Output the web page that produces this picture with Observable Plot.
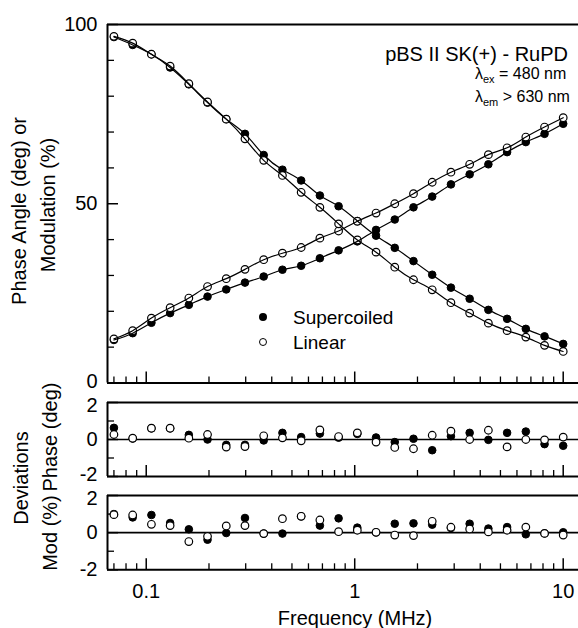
<!DOCTYPE html>
<html>
<head>
<meta charset="utf-8">
<script src="https://cdn.jsdelivr.net/npm/d3@7"></script>
<script src="https://cdn.jsdelivr.net/npm/@observablehq/plot@0.6"></script>
<style>
  html, body { margin: 0; padding: 0; background: white; }
  #chart { position: relative; width: 578px; height: 628px; overflow: hidden;
           font-family: "Liberation Sans", Arial, sans-serif; color: black; }
  #chart svg { position: absolute; left: 0; background: transparent !important; overflow: visible; }
  .lbl { position: absolute; white-space: nowrap; line-height: 1; }
  .rot { transform: translate(-50%, -50%) rotate(-90deg); font-size: 20px; }
  .ctr { transform: translate(-50%, -50%); }
  sub { font-size: 11px; vertical-align: -4px; line-height: 0; }
  .sym { position: absolute; width: 8px; height: 8px; border-radius: 50%; box-sizing: border-box; }
</style>
</head>
<body>
<div id="chart"></div>
<script>
// ---------- data ----------
const freq = [0.0700, 0.0861, 0.1059, 0.1302, 0.1601, 0.1968, 0.2420, 0.2976, 0.3660, 0.4501,
              0.5535, 0.6806, 0.8369, 1.0292, 1.2656, 1.5563, 1.9138, 2.3534, 2.8940, 3.5588,
              4.3763, 5.3816, 6.6177, 8.1379, 10.0];

const phaseSupercoiled = [12.0, 13.9, 16.8, 19.5, 21.8, 24.1, 26.1, 28.0, 29.7, 31.6, 32.7, 34.8, 37.0,
                          39.5, 42.7, 45.6, 49.0, 52.0, 55.4, 58.2, 61.0, 64.4, 67.2, 69.5, 72.3];
const phaseLinear      = [12.3, 14.6, 18.1, 21.0, 23.7, 26.9, 29.1, 31.7, 34.4, 36.2, 37.8, 40.4, 42.4,
                          45.1, 47.4, 50.0, 52.8, 56.0, 58.8, 61.0, 63.7, 65.6, 68.6, 71.4, 74.0];
const modSupercoiled   = [96.5, 94.3, 91.7, 88.0, 83.3, 78.2, 73.6, 69.5, 63.6, 59.5, 56.5, 52.3, 49.3,
                          45.2, 41.1, 37.7, 34.0, 30.2, 26.6, 23.5, 20.4, 17.9, 15.1, 13.0, 10.9];
const modLinear        = [96.7, 94.8, 91.7, 88.4, 83.5, 78.4, 73.6, 68.1, 62.1, 57.9, 53.2, 49.0, 44.4,
                          39.9, 36.5, 32.3, 28.8, 26.0, 22.4, 19.5, 16.7, 14.6, 12.8, 10.5, 8.8];

const devPhaseSupercoiled = [0.63, 0.05, 0.6, 0.6, 0.25, 0.0, -0.29, -0.29, -0.05, 0.36, 0.13, 0.32, 0.1,
                             0.3, 0.11, -0.14, 0.04, -0.58, 0.18, 0.36, -0.02, 0.36, 0.43, -0.25, -0.34];
const devPhaseLinear      = [0.27, 0.07, 0.61, 0.61, 0.07, 0.27, -0.41, -0.38, 0.2, 0.09, -0.07, 0.52, 0.16,
                             0.36, -0.14, -0.43, -0.5, 0.23, 0.45, 0.0, 0.5, -0.4, 0.0, -0.02, 0.13];
const devModSupercoiled   = [1.0, 0.82, 0.95, 0.52, 0.18, -0.38, -0.02, 0.79, -0.05, -0.05, 0.88, 0.38, 0.77,
                             0.27, 0.02, 0.48, 0.5, 0.43, 0.25, 0.48, 0.22, 0.3, -0.09, -0.04, 0.02];
const devModLinear        = [0.97, 0.95, 0.45, 0.38, -0.48, -0.2, 0.36, 0.38, -0.05, 0.75, 0.88, 0.68, 0.05,
                             0.13, 0.02, -0.13, -0.16, 0.61, 0.29, 0.2, 0.04, 0.13, 0.3, -0.04, -0.13];

const xMajorTicks = [0.1, 1, 10];
const xTickLabels = ["0.1", "1", "10"];
const xMinorTicks = [0.07, 0.08, 0.09, 0.2, 0.3, 0.4, 0.5, 0.6, 0.7, 0.8, 0.9, 2, 3, 4, 5, 6, 7, 8, 9];
const mainYTicks = [0, 50, 100];
const mainYMinor = [10, 20, 30, 40, 60, 70, 80, 90];
const devYTicks = [-2, 0, 2];
const devYMinor = [-1, 1];

// ---------- layout ----------
const W = 578, ML = 107;
const X_DOMAIN = [0.0652, 11.84];
const pxPerDecade = (W - ML) / Math.log10(X_DOMAIN[1] / X_DOMAIN[0]);
const font = "'Liberation Sans', Arial, sans-serif";

const rows = (ys) => freq.map((f, i) => ({f, v: ys[i]}));

function framed({yDomain, height, marginTop, marginBottom, yMajor, yMinor, xLabels, labelShift = {}, marks}) {
  const [y0, y1] = yDomain;
  const pxPerUnit = (height - marginTop - marginBottom) / (y1 - y0);
  const yLen = px => y0 + px / pxPerUnit;
  const xLen = px => X_DOMAIN[0] * Math.pow(10, px / pxPerDecade);
  const base = [
    Plot.ruleX(xMinorTicks, {x: d => d, y1: y0, y2: yLen(6), stroke: "black", strokeWidth: 1.3}),
    Plot.ruleX(xMajorTicks, {x: d => d, y1: y0, y2: yLen(11), stroke: "black", strokeWidth: 1.5}),
    Plot.ruleY(yMinor, {y: d => d, x1: X_DOMAIN[0], x2: xLen(7), stroke: "black", strokeWidth: 1.3}),
    Plot.ruleY(yMajor, {y: d => d, x1: X_DOMAIN[0], x2: xLen(11), stroke: "black", strokeWidth: 1.5}),
    Plot.ruleY([y0, y1], {stroke: "black", strokeWidth: 2}),
    Plot.ruleX([X_DOMAIN[0]], {stroke: "black", strokeWidth: 2})
  ];
  for (const t of yMajor) {
    base.push(Plot.text([t], {x: X_DOMAIN[0], y: d => d, text: d => String(d), textAnchor: "end",
                              dx: -10, dy: labelShift[t] || 0, fontSize: 20, lineAnchor: "middle", fill: "black"}));
  }
  if (xLabels) {
    base.push(Plot.text(xMajorTicks, {x: d => d, y: y0, text: (d, i) => xTickLabels[i],
                                      dy: 21.5, fontSize: 20, lineAnchor: "middle", fill: "black"}));
  }
  return Plot.plot({
    width: W, height, marginLeft: ML, marginRight: 0, marginTop, marginBottom,
    x: {type: "log", domain: X_DOMAIN, axis: null},
    y: {domain: yDomain, axis: null},
    style: {fontFamily: font, fontSize: "20px", background: "transparent", overflow: "visible"},
    marks: [...base, ...marks]
  });
}

const filled = {fill: "black", stroke: "black", strokeWidth: 1, r: 3.8};
const open = {fill: "white", stroke: "black", strokeWidth: 1.2, r: 3.8};
const lineStyle = {stroke: "black", strokeWidth: 1.2, curve: "natural"};

const mainPlot = framed({
  yDomain: [0, 100], height: 395, marginTop: 24, marginBottom: 12.5,
  yMajor: mainYTicks, yMinor: mainYMinor, xLabels: false, labelShift: {0: -1.5},
  marks: [
    Plot.dot(rows(phaseSupercoiled), {x: "f", y: "v", ...filled}),
    Plot.dot(rows(modSupercoiled), {x: "f", y: "v", ...filled}),
    Plot.dot(rows(phaseLinear), {x: "f", y: "v", ...open}),
    Plot.dot(rows(modLinear), {x: "f", y: "v", ...open}),
    Plot.line(rows(phaseSupercoiled), {x: "f", y: "v", ...lineStyle}),
    Plot.line(rows(modSupercoiled), {x: "f", y: "v", ...lineStyle}),
    Plot.line(rows(phaseLinear), {x: "f", y: "v", ...lineStyle}),
    Plot.line(rows(modLinear), {x: "f", y: "v", ...lineStyle})
  ]
});

const devMarks = (sc, lin) => [
  Plot.ruleY([0], {stroke: "black", strokeWidth: 1.6}),
  Plot.dot(rows(sc), {x: "f", y: "v", ...filled}),
  Plot.dot(rows(lin), {x: "f", y: "v", ...open})
];

const phasePlot = framed({
  yDomain: [-2, 2], height: 95, marginTop: 12, marginBottom: 9,
  yMajor: devYTicks, yMinor: devYMinor, xLabels: false, labelShift: {2: 3, "-2": -2},
  marks: devMarks(devPhaseSupercoiled, devPhaseLinear)
});

const modPlot = framed({
  yDomain: [-2, 2], height: 143, marginTop: 10, marginBottom: 58.7,
  yMajor: devYTicks, yMinor: devYMinor, xLabels: true, labelShift: {2: 3},
  marks: devMarks(devModSupercoiled, devModLinear)
});

const chart = document.getElementById("chart");
mainPlot.style.top = "0px";
phasePlot.style.top = "390px";
modPlot.style.top = "485px";
chart.append(mainPlot, phasePlot, modPlot);

// ---------- labels, title, legend ----------
function addLabel(html, cls, css) {
  const d = document.createElement("div");
  d.className = "lbl " + cls;
  d.innerHTML = html;
  Object.assign(d.style, css);
  chart.appendChild(d);
  return d;
}
addLabel("Phase Angle (deg) or", "rot", {left: "19px", top: "211px"});
addLabel("Modulation (%)", "rot", {left: "47.5px", top: "205px"});
addLabel("Deviations", "rot", {left: "21px", top: "478px"});
addLabel("Phase (deg)", "rot", {left: "50px", top: "437px"});
addLabel("Mod (%)", "rot", {left: "50px", top: "533px"});
addLabel("Frequency (MHz)", "ctr", {left: "355px", top: "618px", fontSize: "20px"});
addLabel("pBS II SK(+) - RuPD", "", {right: "10px", top: "44px", fontSize: "20px"});
addLabel("&lambda;<sub>ex</sub> = 480 nm", "", {left: "475px", top: "66px", fontSize: "16px"});
addLabel("&lambda;<sub>em</sub> &gt; 630 nm", "", {left: "475px", top: "89px", fontSize: "16px"});

const legendItems = [
  {name: "Supercoiled", style: {background: "black"}, cy: 317},
  {name: "Linear", style: {background: "white", border: "1.2px solid black"}, cy: 342}
];
for (const item of legendItems) {
  const s = document.createElement("div");
  s.className = "sym";
  Object.assign(s.style, {left: "259px", top: (item.cy - 4) + "px"}, item.style);
  chart.appendChild(s);
  addLabel(item.name, "", {left: "293px", top: (item.cy - 9.5) + "px", fontSize: "19px"});
}
</script>
</body>
</html>
